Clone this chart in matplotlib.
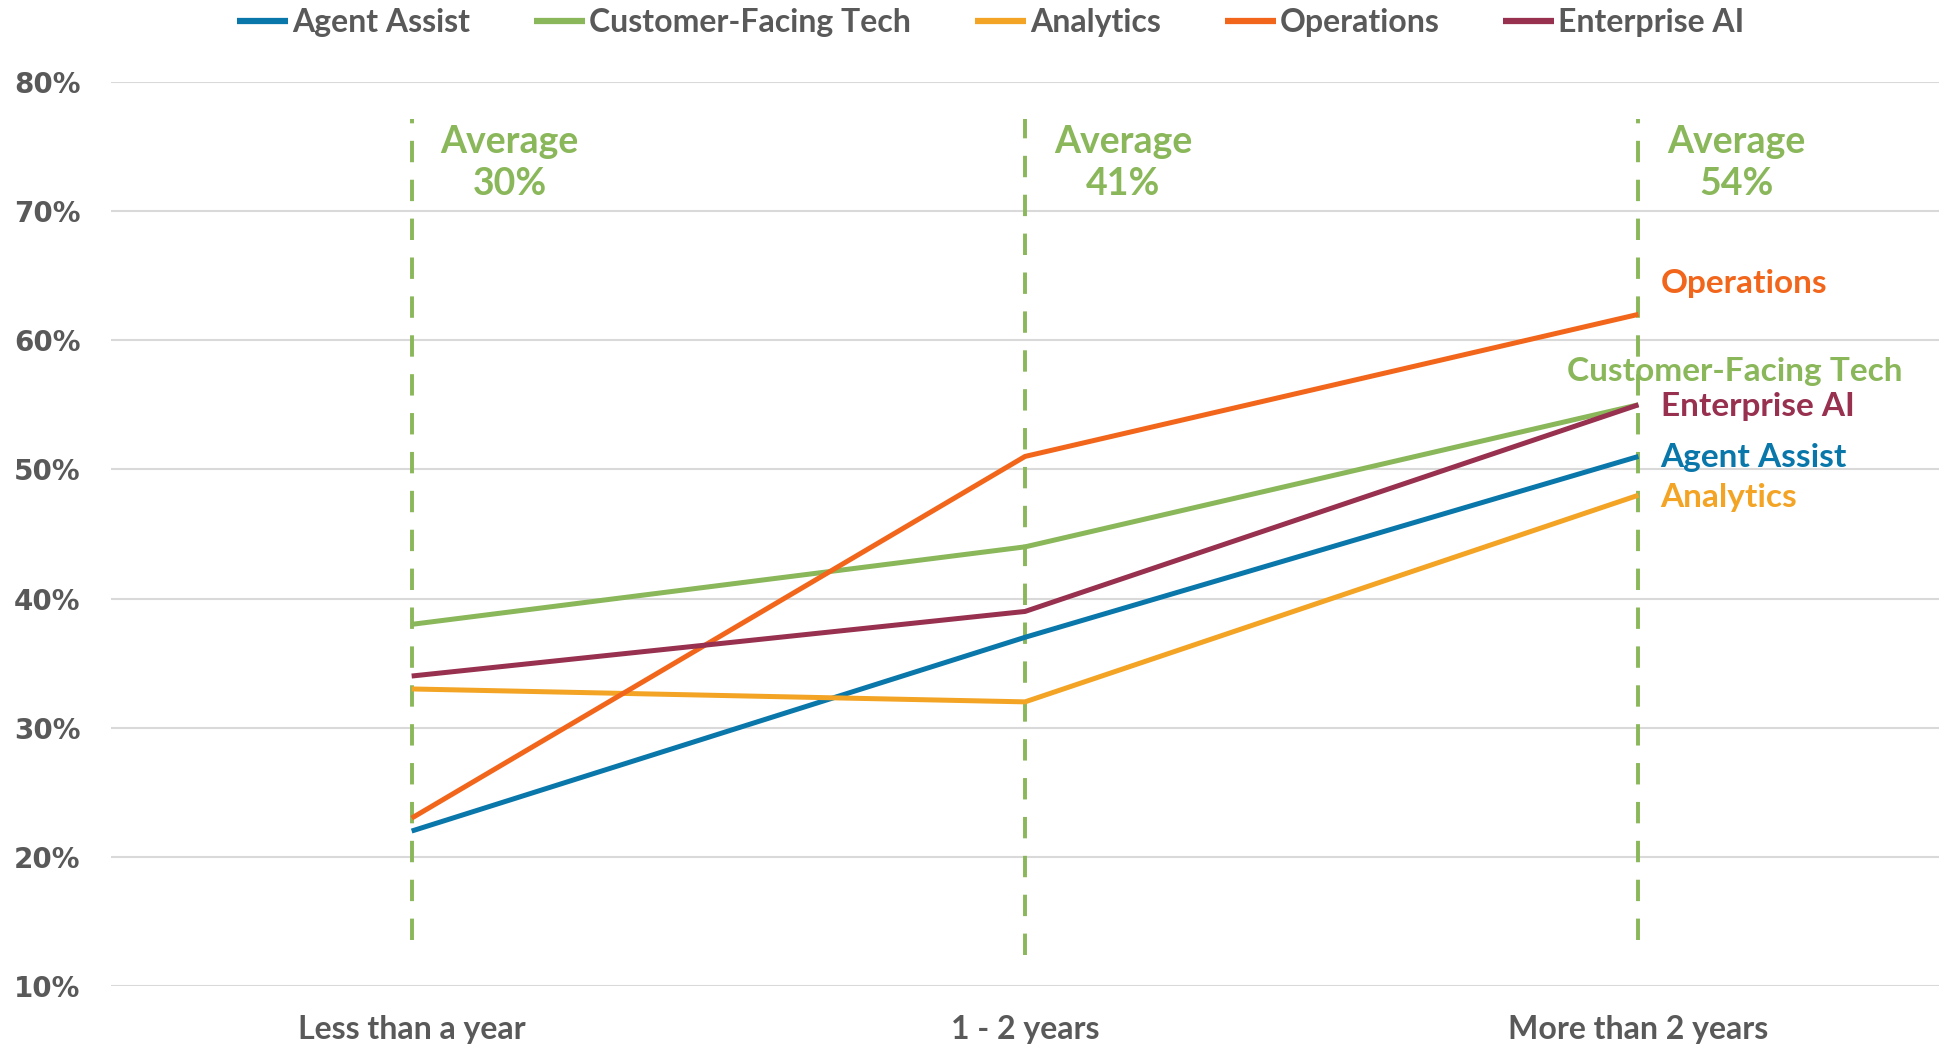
import matplotlib.pyplot as plt

categories = ["Less than a year", "1 - 2 years", "More than 2 years"]
series_names = ["Agent Assist", "Customer-Facing Tech", "Analytics", "Operations", "Enterprise AI"]
agent_assist = [22, 37, 51]
customer_facing = [38, 44, 55]
analytics = [33, 32, 48]
operations = [23, 51, 62]
enterprise_ai = [34, 39, 55]
averages = [30, 41, 54]
yticks = [10, 20, 30, 40, 50, 60, 70, 80]

colors = ["#0A77AA", "#8AB75A", "#F3A424", "#F2661C", "#98304F"]
gray = "#595959"
green = "#8AB75A"

plt.rcParams['font.family'] = ['Lato', 'DejaVu Sans']

fig = plt.figure(figsize=(19.39, 10.49), dpi=100)
ax = fig.add_axes([0.0573, 0.06, 0.9427, 0.862])

x = list(range(len(categories)))
all_series = [agent_assist, customer_facing, analytics, operations, enterprise_ai]
for name, vals, c in zip(series_names, all_series, colors):
    ax.plot(x, vals, color=c, lw=3.6, label=name, solid_capstyle='butt', zorder=3)

# dashed average markers
dash_bottom = [13.6, 12.4, 13.6]
for xi, avg, yb in zip(x, averages, dash_bottom):
    ax.plot([xi, xi], [yb, 77.1], color=green, lw=2.8, ls=(0, (5.5, 4.5)), zorder=2)
    ax.text(xi + 0.16, 73.7, f"Average\n{avg}%", color=green, fontsize=27,
            fontweight='bold', ha='center', va='center', linespacing=1.3)

# end labels
end_labels = [
    ("Operations", 2.036, 64.4, colors[3]),
    ("Customer-Facing Tech", 1.884, 57.6, colors[1]),
    ("Enterprise AI", 2.036, 54.9, colors[4]),
    ("Agent Assist", 2.036, 50.9, colors[0]),
    ("Analytics", 2.036, 47.8, colors[2]),
]
for txt, lx, ly, c in end_labels:
    ax.text(lx, ly, txt, color=c, fontsize=24, fontweight='bold', ha='left', va='center')

ax.set_xlim(-0.49, 2.49)
ax.set_ylim(10, 80)
ax.set_yticks(yticks)
ax.set_yticklabels([f"{v}%" for v in yticks], fontsize=20, fontweight='bold', color=gray,
                   family=['DejaVu Sans'])
ax.set_xticks(x)
ax.set_xticklabels(categories, fontsize=23, fontweight='bold', color=gray)
ax.tick_params(axis='both', length=0)
ax.tick_params(axis='y', pad=22)
ax.tick_params(axis='x', pad=21)
ax.grid(axis='y', color='#D9D9D9', lw=1.5)
ax.set_axisbelow(True)
for s in ax.spines.values():
    s.set_visible(False)

leg = fig.legend(loc='upper center', bbox_to_anchor=(0.511, 1.02), ncol=5, frameon=False,
                 fontsize=23, handlelength=1.6, handletextpad=0.12, columnspacing=2.0)
for t in leg.get_texts():
    t.set_color(gray)
    t.set_fontweight('bold')
for h in leg.get_lines():
    h.set_linewidth(4.5)

fig.savefig("out.png", dpi=100, facecolor='white')
